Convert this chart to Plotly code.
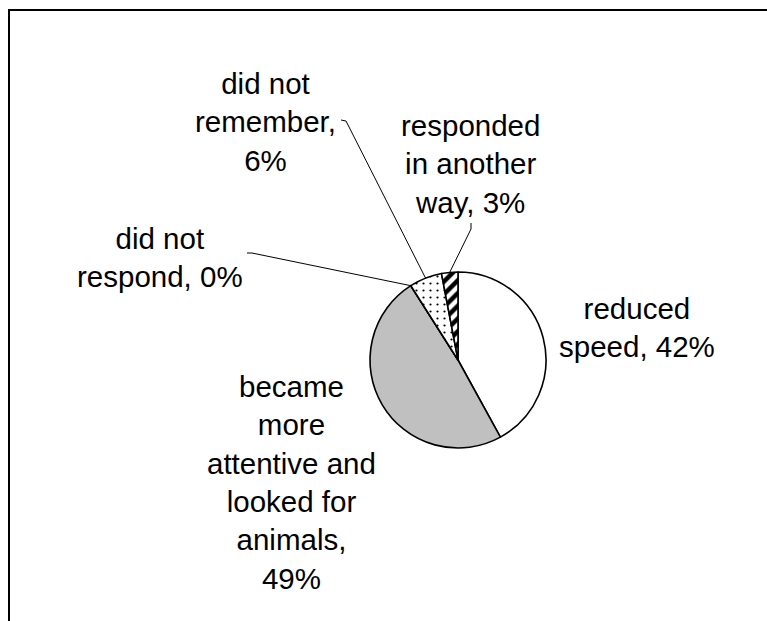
import numpy as np
import plotly.graph_objects as go

# ---- data ----
categories = ["reduced speed", "became more attentive and looked for animals",
              "did not respond", "did not remember", "responded in another way"]
values = [42, 49, 0, 6, 3]
label_texts = ["reduced<br>speed, 42%",
               "became<br>more<br>attentive and<br>looked for<br>animals,<br>49%",
               "did not<br>respond, 0%",
               "did not<br>remember,<br>6%",
               "responded<br>in another<br>way, 3%"]

# ---- layout constants (pixels) ----
W, H = 767, 621
cx, cy, R = 458, 360, 88
label_pos = [(637, 327), (291, 482), (160, 257), (265, 122), (471, 164)]
leader_start = {2: [(247, 253), (252, 253)],
                3: [(341, 120), (346, 121)],
                4: [(471, 223), (471, 229)]}

def px(x, y):
    return x / W, 1 - y / H

fills = ["#FFFFFF", "#C0C0C0", "#FFFFFF", "#FFFFFF", "#FFFFFF"]
shapes_pat = ["", "", "", ".", "/"]

fig = go.Figure(go.Pie(
    labels=categories, values=values, sort=False, direction="clockwise",
    rotation=0, textinfo="none", hoverinfo="label+percent",
    marker=dict(colors=fills, line=dict(color="black", width=1.6),
                pattern=dict(shape=shapes_pat, fgcolor="black", bgcolor="white",
                             size=[8, 8, 8, 7, 9], solidity=[0.3, 0.3, 0.3, 0.08, 0.5],
                             fillmode="replace")),
    domain=dict(x=[(cx - R) / W, (cx + R) / W], y=[(H - cy - R) / H, (H - cy + R) / H]),
    showlegend=False,
))

annotations = []
for (lx, ly), t in zip(label_pos, label_texts):
    x, y = px(lx, ly)
    annotations.append(dict(x=x, y=y, xref="paper", yref="paper", text=t, showarrow=False,
                            xanchor="center", yanchor="middle", align="center",
                            font=dict(family="Liberation Sans, Arial", size=29.5, color="black")))

# leader lines to slice midpoints (computed from data)
vals = np.array(values, dtype=float)
cum = np.cumsum(vals)
mid = (cum - vals / 2) / vals.sum()
shapes = []
for i, pts in leader_start.items():
    a = 2 * np.pi * mid[i]
    ex, ey = cx + R * np.sin(a), cy - R * np.cos(a)
    allpts = pts + [(ex, ey)]
    path = "M " + " L ".join(f"{px(x, y)[0]} {px(x, y)[1]}" for x, y in allpts)
    shapes.append(dict(type="path", xref="paper", yref="paper", path=path,
                       line=dict(color="black", width=1)))

# frame (left and top)
fx, fy = 9, 10
p0, p1, p2 = px(fx, H + 5), px(fx, fy), px(W + 5, fy)
shapes.append(dict(type="path", xref="paper", yref="paper",
                   path=f"M {p0[0]} {p0[1]} L {p1[0]} {p1[1]} L {p2[0]} {p2[1]}",
                   line=dict(color="black", width=2)))

fig.update_layout(width=W, height=H, margin=dict(l=0, r=0, t=0, b=0),
                  paper_bgcolor="white", plot_bgcolor="white",
                  annotations=annotations, shapes=shapes)
fig.write_html("out.html", config={"displayModeBar": False},
               post_script="document.body.style.margin='0px';document.body.style.overflow='hidden';")
